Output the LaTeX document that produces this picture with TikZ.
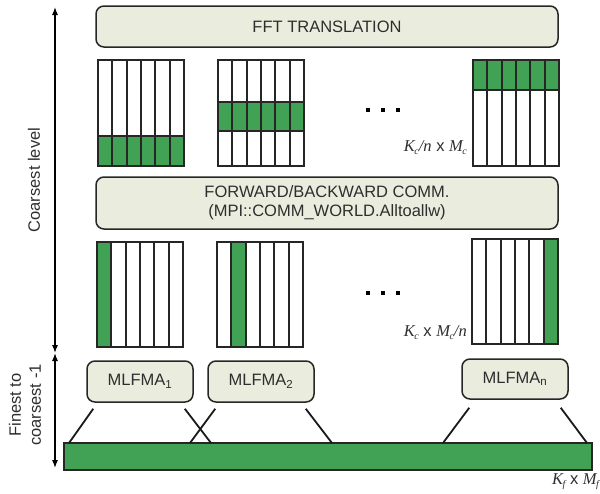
\documentclass[tikz,border=0pt]{standalone}
\usepackage{fontspec}
\setmainfont{Liberation Sans}
\newfontfamily\serf{Liberation Serif}
\usetikzlibrary{arrows.meta,calc}
\definecolor{boxfill}{HTML}{EAEDDE}
\definecolor{gr}{HTML}{41A155}
\definecolor{txt}{HTML}{2E2E2E}
\newcommand{\sv}[2]{{\serf\itshape #1\kern-0.5pt\raisebox{-3pt}{\fontsize{10}{10}\selectfont #2}}}
\begin{document}
\begin{tikzpicture}[x=1pt,y=-1pt,
  box/.style={draw=black!85,line width=1.5pt,rounded corners=8pt,fill=boxfill,
    text=txt,font=\fontsize{16.5}{19}\selectfont,align=center,inner sep=0pt},
  cell/.style={draw=black!85,line width=1.4pt},
  lbl/.style={font=\fontsize{16.5}{18}\selectfont,text=txt,inner sep=0pt},
  side/.style={font=\fontsize{16.5}{20}\selectfont,text=txt,align=center,rotate=90,inner sep=0pt},
  conn/.style={draw=black!90,line width=1.8pt},
  dbl/.style={draw=black,line width=1.2pt,{Latex[length=8pt,width=6pt]}-{Latex[length=8pt,width=6pt]}}]
\useasboundingbox (0,0) rectangle (600,493);
% boxes
\node[box,minimum width=462pt,minimum height=41pt] (fft) at (327,26.5) {FFT TRANSLATION};
\node[box,minimum width=462pt,minimum height=52pt] (comm) at (327,203) {FORWARD/BACKWARD COMM.\\(MPI::COMM\_WORLD.Alltoallw)};
% top arrays (row distribution)
\foreach \xa/\ga/\gb in {98/136/166, 218/102/131, 473/60/90}{
  \fill[gr] (\xa,\ga) rectangle (\xa+86,\gb);
  \foreach \i in {1,...,5}{
    \pgfmathsetmacro{\cx}{round(\xa+\i*14.333)}
    \draw[cell] (\cx,60) -- (\cx,166);}
  \draw[cell] (\xa,\ga) -- (\xa+86,\ga);
  \draw[cell] (\xa,\gb) -- (\xa+86,\gb);
  \draw[cell] (\xa,60) rectangle (\xa+86,166);
}
% bottom arrays (column distribution)
\foreach \xa/\ya/\k in {97/242/0, 217/242/1, 472/239/5}{
  \pgfmathsetmacro{\ga}{round(\xa+\k*14.333)}
  \pgfmathsetmacro{\gb}{round(\xa+\k*14.333+14.333)}
  \fill[gr] (\ga,\ya) rectangle (\gb,\ya+105);
  \foreach \i in {1,...,5}{
    \pgfmathsetmacro{\cx}{round(\xa+\i*14.333)}
    \draw[cell] (\cx,\ya) -- (\cx,\ya+105);}
  \draw[cell] (\xa,\ya) rectangle (\xa+86,\ya+105);
}
% ellipsis dots
\foreach \yy in {110,293}{
  \foreach \xx in {368,383,398} \fill[black] (\xx-1.7,\yy-1.7) rectangle (\xx+1.7,\yy+1.7);
}
% size labels
\node[lbl,anchor=base east] (l1) at (467,151) {\sv{K}{c}{\serf\itshape /n} x \sv{M}{c}};
\node[lbl,anchor=base east] (l2) at (467,336) {\sv{K}{c} x \sv{M}{c}{\serf\itshape /n}};
\node[lbl,anchor=base west] (l3) at (552,484) {\sv{K}{f} x \sv{M}{f}};
% MLFMA boxes
\node[box,minimum width=106pt,minimum height=41pt] (m1) at (140,381.5) {MLFMA\textsubscript{1}};
\node[box,minimum width=106pt,minimum height=41pt] (m2) at (261,381.5) {MLFMA\textsubscript{2}};
\node[box,minimum width=106pt,minimum height=40pt] (mn) at (515,379) {MLFMA\textsubscript{n}};
% green bar
\node[draw=black!85,line width=1.4pt,fill=gr,minimum width=528pt,minimum height=27pt,inner sep=0pt] (bar) at (328,456.5) {};
% connectors
\coordinate (b1) at (69,443); \coordinate (b2) at (211,443);
\coordinate (b3) at (190,443); \coordinate (b4) at (332,443);
\coordinate (b5) at (443,443); \coordinate (b6) at (587,443);
\draw[conn] ($(m1.south west)+(7,6)$) -- (b1);
\draw[conn] ($(m1.south east)+(-9,6)$) -- (b2);
\draw[conn] ($(m2.south west)+(8,6)$) -- (b3);
\draw[conn] ($(m2.south east)+(-9,6)$) -- (b4);
\draw[conn] ($(mn.south west)+(8,8)$) -- (b5);
\draw[conn] ($(mn.south east)+(-8,8)$) -- (b6);
% level arrows
\coordinate (atop) at (55,7);
\coordinate (amid) at (55,353);
\coordinate (abot) at (55,468);
\draw[dbl] (amid) -- (atop);
\draw[dbl] (amid) -- (abot);
\node[side] (coarse) at (34,180) {Coarsest level};
\node[side] (fine) at (25,405) {Finest to\\coarsest -1};
\end{tikzpicture}
\end{document}
